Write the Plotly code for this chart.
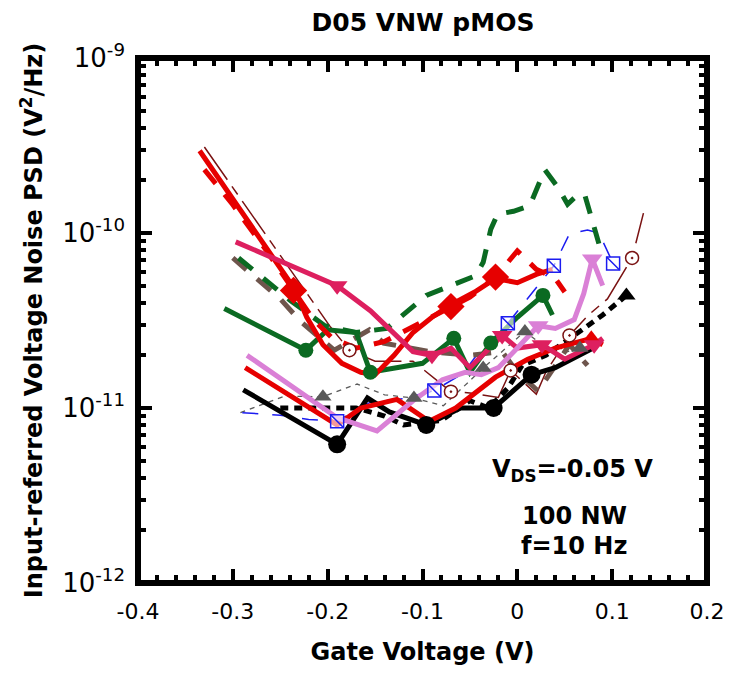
import plotly.graph_objects as go

# ---------------- data (Gate voltage V, PSD V^2/Hz) ----------------
red_top_v = [-0.335, -0.235, -0.222, -0.205, -0.185, -0.165, -0.15, -0.13, -0.11, -0.09, -0.07, -0.045, -0.023, 0.0, 0.02, 0.037]
red_top_p = [2.95e-10, 4.8e-11, 3.3e-11, 2.3e-11, 1.8e-11, 1.6e-11, 1.55e-11, 2.0e-11, 2.7e-11, 3.3e-11, 3.9e-11, 4.6e-11, 5.5e-11, 5.2e-11, 5.8e-11, 6.2e-11]

red_dash_v = [-0.33, -0.3, -0.265, -0.236, -0.215, -0.195, -0.17, -0.14, -0.11, -0.09, -0.07, -0.05, -0.023, 0.0, 0.02, 0.04, 0.05]
red_dash_p = [2.3e-10, 1.45e-10, 8.0e-11, 4.7e-11, 3.2e-11, 2.5e-11, 2.2e-11, 2.4e-11, 2.9e-11, 3.3e-11, 3.8e-11, 4.3e-11, 5.6e-11, 7.9e-11, 6.2e-11, 5.5e-11, 4.6e-11]
red_dash_mk = [3, 10, 12]

red_low_v = [-0.287, -0.19, -0.165, -0.127, -0.093, -0.065, -0.023, 0.011, 0.04, 0.078, 0.09]
red_low_p = [1.7e-11, 8.0e-12, 1.0e-11, 1.12e-11, 8.4e-12, 1.0e-11, 1.5e-11, 1.9e-11, 2.2e-11, 2.5e-11, 2.3e-11]
red_low_mk = [9]

crim_v = [-0.297, -0.19, -0.155, -0.13, -0.11, -0.09, -0.07, -0.05, -0.016, 0.0, 0.026, 0.05, 0.081, 0.09]
crim_p = [8.9e-11, 5.0e-11, 3.6e-11, 2.7e-11, 2.1e-11, 2.0e-11, 2.2e-11, 1.7e-11, 2.6e-11, 2.2e-11, 2.3e-11, 1.9e-11, 2.3e-11, 2.5e-11]
crim_mk = [1, 5, 8, 10, 12]

viol_v = [-0.285, -0.19, -0.148, -0.11, -0.079, -0.055, -0.038, -0.02, 0.0, 0.022, 0.04, 0.06, 0.07, 0.079, 0.09]
viol_p = [2.0e-11, 8.8e-12, 7.4e-12, 1.1e-11, 1.45e-11, 1.6e-11, 1.55e-11, 1.7e-11, 2.2e-11, 2.95e-11, 2.85e-11, 3.2e-11, 4.5e-11, 7.1e-11, 5.0e-11]
viol_mk = [9, 13]

grn_v = [-0.309, -0.223, -0.2, -0.17, -0.155, -0.1, -0.067, -0.05, -0.028, 0.0, 0.027, 0.037]
grn_p = [3.7e-11, 2.14e-11, 2.8e-11, 2.7e-11, 1.6e-11, 1.8e-11, 2.5e-11, 1.6e-11, 2.35e-11, 3.3e-11, 4.4e-11, 3.4e-11]
grn_mk = [1, 4, 6, 8, 10]

grn_dash_v = [-0.294, -0.239, -0.203, -0.17, -0.1375, -0.096, -0.044, -0.036, -0.028, -0.021, -0.004, 0.013, 0.029, 0.042, 0.053, 0.064, 0.071, 0.086]
grn_dash_p = [7.2e-11, 4.1e-11, 2.95e-11, 2.7e-11, 2.85e-11, 4.4e-11, 5.7e-11, 6.8e-11, 1.05e-10, 1.28e-10, 1.33e-10, 1.43e-10, 2.3e-10, 1.85e-10, 1.46e-10, 1.66e-10, 1.66e-10, 8.7e-11]

brn_v = [-0.3, -0.25, -0.228, -0.193, -0.156, -0.141, -0.093, -0.05, -0.016, 0.0, 0.022, 0.043, 0.055, 0.074]
brn_p = [7.2e-11, 4.2e-11, 3.1e-11, 2.14e-11, 2.8e-11, 2.35e-11, 2.1e-11, 2.0e-11, 2.1e-11, 1.6e-11, 1.25e-11, 1.85e-11, 2.3e-11, 1.75e-11]

blk_v = [-0.289, -0.19, -0.158, -0.135, -0.096, -0.06, -0.025, 0.015, 0.04, 0.08]
blk_p = [1.27e-11, 6.2e-12, 1.14e-11, 9.5e-12, 8.0e-12, 1.0e-11, 1.0e-11, 1.55e-11, 1.7e-11, 2.2e-11]
blk_mk = [1, 4, 6, 7]

blk_dash_v = [-0.25, -0.17, -0.14, -0.12, -0.08, -0.05, -0.03, -0.01, 0.005, 0.03, 0.06, 0.09, 0.115]
blk_dash_p = [1.0e-11, 1.0e-11, 9.0e-12, 8.0e-12, 8.5e-12, 1.1e-11, 1.0e-11, 1.3e-11, 1.75e-11, 2.0e-11, 2.6e-11, 3.4e-11, 4.4e-11]
blk_dash_mk = [12]

blue_v = [-0.29, -0.25, -0.22, -0.19, -0.155, -0.12, -0.0875, -0.057, -0.044, -0.01, 0.0385, 0.055, 0.074, 0.086, 0.101]
blue_p = [9.4e-12, 9.1e-12, 8.6e-12, 8.4e-12, 1.08e-11, 1.13e-11, 1.26e-11, 1.58e-11, 1.97e-11, 3.05e-11, 6.5e-11, 9.9e-11, 1.04e-10, 1.0e-10, 6.7e-11]
blue_mk = [3, 6, 9, 10, 14]

mar_v = [-0.33, -0.197, -0.177, -0.15, -0.11, -0.07, -0.05, -0.02, -0.007, 0.02, 0.03, 0.055, 0.075, 0.095, 0.121, 0.133]
mar_p = [3.1e-10, 2.9e-11, 2.14e-11, 1.85e-11, 1.85e-11, 1.24e-11, 1.22e-11, 1.15e-11, 1.64e-11, 1.2e-11, 1.6e-11, 2.6e-11, 3.4e-11, 4.2e-11, 7.2e-11, 1.3e-10]
mar_mk = [2, 5, 8, 11, 14]

gry_v = [-0.292, -0.245, -0.205, -0.169, -0.14, -0.109, -0.078, -0.036, 0.008, 0.04, 0.066]
gry_p = [9.4e-12, 1.17e-11, 1.16e-11, 1.37e-11, 1.19e-11, 1.14e-11, 1.03e-11, 1.69e-11, 2.74e-11, 2.0e-11, 2.2e-11]
gry_mk = [2, 5, 7, 8, 10]

x_ticks = [-0.4, -0.3, -0.2, -0.1, 0.0, 0.1, 0.2]
x_labels = ["-0.4", "-0.3", "-0.2", "-0.1", "0", "0.1", "0.2"]
y_ticks = [1e-12, 1e-11, 1e-10, 1e-9]
y_labels = ["10<sup>-12</sup>", "10<sup>-11</sup>", "10<sup>-10</sup>", "10<sup>-9</sup>"]
y_minor = [k * 10.0 ** e for e in (-12, -11, -10) for k in range(2, 10)]

FONT = "DejaVu Sans"
RED = "#e60000"
CRIM = "#dd1f5f"
VIOL = "#da80d6"
GRN = "#0b6a22"
BRN = "#6e554c"
BLUE = "#1c1cf0"
MAR = "#7a1212"
GRY = "#5a5a5a"

fig = go.Figure()


def line(v, p, color, width, dash="solid"):
    fig.add_trace(go.Scatter(x=v, y=p, mode="lines",
                             line=dict(color=color, width=width, dash=dash),
                             showlegend=False, hoverinfo="skip"))


def marks(v, p, idx, symbol, size, color, lcolor=None, lwidth=0):
    fig.add_trace(go.Scatter(x=[v[i] for i in idx], y=[p[i] for i in idx], mode="markers",
                             marker=dict(symbol=symbol, size=size, color=color,
                                         line=dict(color=lcolor or color, width=lwidth)),
                             showlegend=False, hoverinfo="skip"))


# thin series
line(gry_v, gry_p, GRY, 1.3, "5px,5px")
line(mar_v, mar_p, MAR, 1.5, "40px,8px,10px,8px")
line(blue_v, blue_p, BLUE, 1.5, "16px,14px")
# thick dashed series
line(brn_v, brn_p, BRN, 5, "18px,14px")
line(grn_dash_v, grn_dash_p, GRN, 5, "18px,14px")
line(blk_dash_v, blk_dash_p, "black", 5, "8px,6px")
# thick solid series
line(blk_v, blk_p, "black", 5)
line(grn_v, grn_p, GRN, 5)
line(red_dash_v, red_dash_p, RED, 5, "18px,14px")
line(red_top_v, red_top_p, RED, 5)
line(red_low_v, red_low_p, RED, 5)
line(crim_v, crim_p, CRIM, 5)
line(viol_v, viol_p, VIOL, 5)

# markers
marks(gry_v, gry_p, gry_mk, "triangle-up", 15, GRY)
marks(blk_v, blk_p, blk_mk, "circle", 18, "black")
marks(blk_dash_v, blk_dash_p, blk_dash_mk, "triangle-up", 16, "black")
marks(grn_v, grn_p, grn_mk, "circle", 15, GRN)
marks(red_dash_v, red_dash_p, red_dash_mk, "diamond", 21, RED)
marks(red_low_v, red_low_p, red_low_mk, "triangle-up", 16, RED)
marks(crim_v, crim_p, crim_mk, "triangle-down", 18, CRIM)
marks(viol_v, viol_p, viol_mk, "triangle-down", 18, VIOL)
marks(mar_v, mar_p, mar_mk, "circle-dot", 13, "white", MAR, 1.5)
marks(blue_v, blue_p, blue_mk, "square", 13, "rgba(255,255,255,0.6)", BLUE, 1.5)
marks(blue_v, blue_p, blue_mk, "line-nw-open", 13, BLUE, BLUE, 1.5)

fig.update_layout(
    width=737, height=673,
    margin=dict(l=138, r=23, t=58, b=87),
    paper_bgcolor="white", plot_bgcolor="white",
    font=dict(family=FONT, color="black"),
    title=dict(text="D05 VNW pMOS", x=423 / 737, xanchor="center", y=1 - 22 / 673, yanchor="middle",
               font=dict(family=FONT, size=25, weight="bold", color="black")),
    showlegend=False,
    xaxis=dict(range=[-0.4, 0.2], tickmode="array", tickvals=x_ticks, ticktext=x_labels,
               ticks="inside", ticklen=14, tickwidth=4, tickcolor="black", mirror="ticks",
               showline=False, showgrid=False, zeroline=False,
               tickfont=dict(family=FONT, size=22, color="black"), ticklabelstandoff=13,
               minor=dict(ticks="inside", ticklen=8, tickwidth=4, tickcolor="black",
                          dtick=0.02, tick0=0, showgrid=False),
               title=dict(text="Gate Voltage (V)", standoff=20,
                          font=dict(family=FONT, size=24, weight="bold", color="black"))),
    yaxis=dict(type="log", range=[-12, -9], tickmode="array", tickvals=y_ticks, ticktext=y_labels,
               ticks="inside", ticklen=14, tickwidth=4, tickcolor="black", mirror="ticks",
               showline=False, showgrid=False, zeroline=False,
               tickfont=dict(family=FONT, size=26, color="black"), ticklabelstandoff=12,
               minor=dict(ticks="inside", ticklen=8, tickwidth=4, tickcolor="black",
                          tickvals=y_minor, showgrid=False),
               title=dict(text="Input-referred Voltage Noise PSD (V<sup>2</sup>/Hz)", standoff=12,
                          font=dict(family=FONT, size=24, weight="bold", color="black"))),
    shapes=[dict(type="rect", xref="paper", yref="paper", x0=0, x1=1, y0=0, y1=1,
                 line=dict(color="black", width=6), layer="above")],
    annotations=[
        dict(text="V<sub>DS</sub>=-0.05 V", xref="paper", yref="paper", x=0.764, y=0.215,
             showarrow=False, xanchor="center", yanchor="middle",
             font=dict(family=FONT, size=24, weight="bold", color="black")),
        dict(text="100 NW", xref="paper", yref="paper", x=0.767, y=0.127,
             showarrow=False, xanchor="center", yanchor="middle",
             font=dict(family=FONT, size=24, weight="bold", color="black")),
        dict(text="f=10 Hz", xref="paper", yref="paper", x=0.767, y=0.070,
             showarrow=False, xanchor="center", yanchor="middle",
             font=dict(family=FONT, size=24, weight="bold", color="black")),
    ],
)

fig.write_html("out.html")
